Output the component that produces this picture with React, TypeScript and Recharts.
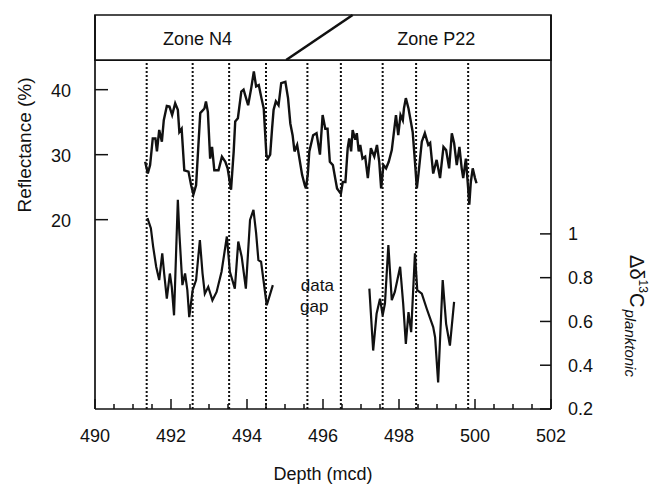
import React from "react";
import {
  ComposedChart,
  Line,
  XAxis,
  YAxis,
  ReferenceLine,
  ReferenceArea,
  ReferenceDot,
} from "recharts";

const FONT = '"Liberation Sans", Arial, Helvetica, sans-serif';
const INK = "#111";

// reflectance record (%), depth in mcd
const reflDepth = [
  491.32, 491.39, 491.45, 491.52, 491.59, 491.63, 491.69, 491.76, 491.81, 491.89,
  491.96, 492.03, 492.11, 492.18, 492.22, 492.28, 492.35, 492.46, 492.53, 492.59,
  492.66, 492.77, 492.88, 492.92, 492.97, 493.03, 493.08, 493.14, 493.25, 493.34,
  493.43, 493.49, 493.58, 493.65, 493.69, 493.76, 493.85, 493.91, 494.03, 494.11,
  494.18, 494.24, 494.31, 494.38, 494.44, 494.51, 494.55, 494.61, 494.66, 494.7,
  494.76, 494.83, 494.9, 495.01, 495.08, 495.14, 495.2, 495.25, 495.32, 495.45,
  495.52, 495.55, 495.6, 495.64, 495.74, 495.83, 495.92, 495.99, 496.06, 496.12,
  496.18, 496.26, 496.32, 496.37, 496.47, 496.52, 496.59, 496.65, 496.69, 496.74,
  496.78, 496.85, 496.89, 496.94, 496.98, 497.04, 497.11, 497.18, 497.26, 497.35,
  497.42, 497.48, 497.53, 497.59, 497.66, 497.73, 497.81, 497.92, 497.98, 498.04,
  498.1, 498.13, 498.18, 498.25, 498.36, 498.42, 498.47, 498.51, 498.6, 498.68,
  498.77, 498.82, 498.9, 498.99, 499.08, 499.17, 499.24, 499.32, 499.39, 499.45,
  499.52, 499.59, 499.65, 499.69, 499.76, 499.82, 499.85, 499.89, 499.94, 500.0,
  500.04,
];
const reflValue = [
  28.9, 27.1, 28.4, 32.5, 32.5, 30.5, 33.8, 32.0, 35.3, 37.5,
  37.4, 36.1, 37.9, 36.9, 33.5, 34.0, 27.6, 27.4, 25.3, 23.9,
  25.3, 36.4, 37.1, 38.2, 36.6, 29.4, 31.2, 27.6, 27.6, 29.7,
  28.9, 27.9, 24.6, 30.5, 35.1, 35.6, 39.7, 40.0, 37.6, 40.2,
  42.8, 40.5, 40.7, 38.7, 37.1, 30.0, 29.4, 30.0, 34.0, 36.9,
  38.2, 37.6, 41.0, 41.2, 38.7, 34.8, 33.0, 30.5, 31.5, 26.9,
  25.3, 24.8, 27.0, 30.5, 33.0, 33.3, 30.0, 36.1, 34.0, 34.0,
  28.9, 28.4, 26.4, 24.8, 24.0, 25.8, 25.8, 31.0, 32.5, 30.5,
  33.8, 32.3, 33.3, 30.5, 31.5, 29.4, 29.7, 26.4, 31.0, 29.7,
  31.5, 28.9, 24.8, 28.4, 27.9, 28.9, 30.7, 36.1, 33.0, 36.1,
  35.3, 37.1, 38.7, 37.1, 33.5, 28.9, 24.8, 26.9, 32.0, 33.3,
  31.5, 31.8, 27.1, 29.2, 26.4, 31.2, 30.7, 27.9, 33.3, 31.8,
  28.4, 31.2, 27.9, 26.4, 29.4, 24.8, 22.3, 25.8, 27.9, 26.4,
  25.6,
];

// delta d13C planktonic, before and after the data gap
const carbonDepthA = [
  491.38, 491.47, 491.53, 491.61, 491.69, 491.77, 491.82, 491.89, 491.97, 492.02,
  492.08, 492.18, 492.22, 492.3, 492.37, 492.43, 492.48, 492.57, 492.66, 492.76,
  492.83, 492.89, 492.98, 493.09, 493.2, 493.33, 493.47, 493.55, 493.68, 493.77,
  493.86, 493.97, 494.08, 494.17, 494.24, 494.3, 494.37, 494.52, 494.68,
];
const carbonValueA = [
  1.072, 1.026, 0.942, 0.85, 0.789, 0.911, 0.819, 0.704, 0.819, 0.758,
  0.628, 1.156, 1.003, 0.766, 0.819, 0.743, 0.62, 0.743, 0.789, 0.972,
  0.819, 0.727, 0.758, 0.697, 0.735, 0.827, 0.988, 0.827, 0.75, 0.965,
  0.896, 0.75, 1.064, 1.11, 1.003, 0.88, 0.873, 0.674, 0.766,
];
const carbonDepthB = [
  497.22, 497.32, 497.41, 497.5, 497.57, 497.63, 497.72, 497.81, 497.89, 498.03,
  498.11, 498.18, 498.25, 498.32, 498.42, 498.48, 498.6, 498.73, 498.9, 498.95,
  499.03, 499.15, 499.24, 499.34, 499.45,
];
const carbonValueB = [
  0.75, 0.467, 0.635, 0.704, 0.628, 0.681, 0.949, 0.697, 0.735, 0.85,
  0.681, 0.497, 0.643, 0.551, 0.911, 0.743, 0.727, 0.658, 0.574, 0.528,
  0.321, 0.789, 0.589, 0.49, 0.689,
];

const depthTicks = [
  490, 490.5, 491, 491.5, 492, 492.5, 493, 493.5, 494, 494.5, 495, 495.5, 496,
  496.5, 497, 497.5, 498, 498.5, 499, 499.5, 500, 500.5, 501, 501.5, 502,
];
const reflTicks = [20, 30, 40];
const carbonTicks = [0.2, 0.4, 0.6, 0.8, 1];

// dotted cycle markers
const markerDepths = [491.36, 492.57, 493.53, 494.5, 495.59, 496.47, 497.57, 498.45, 499.82];

const DEPTH_DOMAIN = [490, 502];
const REFL_DOMAIN = [-9.13, 51.49];
const CARBON_DOMAIN = [0.2, 2.0];
const HEADER_BOTTOM = 44.56;
const zoneBoundary = [
  { x: 495.03, y: HEADER_BOTTOM },
  { x: 496.78, y: REFL_DOMAIN[1] },
];

const reflData = reflDepth.map((d, i) => ({ depth: d, refl: reflValue[i] }));
const carbonDataA = carbonDepthA.map((d, i) => ({ depth: d, carbon: carbonValueA[i] }));
const carbonDataB = carbonDepthB.map((d, i) => ({ depth: d, carbon: carbonValueB[i] }));

function DepthTick(props: any) {
  const { x, y, payload } = props;
  const v = payload.value;
  const major = Math.abs(v / 2 - Math.round(v / 2)) < 1e-6;
  return (
    <g>
      <line x1={x} y1={y} x2={x} y2={y - (major ? 10 : 5)} stroke={INK} strokeWidth={1.5} />
      {major && (
        <text x={x} y={y + 33} textAnchor="middle" fontSize={18} fill={INK} fontFamily={FONT}>
          {v}
        </text>
      )}
    </g>
  );
}

function ReflTick(props: any) {
  const { x, y, payload } = props;
  return (
    <g>
      <line x1={x} y1={y} x2={x + 13} y2={y} stroke={INK} strokeWidth={1.5} />
      <text x={x - 24} y={y} dy="0.42em" textAnchor="end" fontSize={18} fill={INK} fontFamily={FONT}>
        {payload.value}
      </text>
    </g>
  );
}

function CarbonTick(props: any) {
  const { x, y, payload } = props;
  return (
    <g>
      <line x1={x - 11} y1={y} x2={x} y2={y} stroke={INK} strokeWidth={1.5} />
      <text x={x + 17} y={y} dy="0.36em" textAnchor="start" fontSize={18} fill={INK} fontFamily={FONT}>
        {payload.value}
      </text>
    </g>
  );
}

const word = (text: string, size = 18) => (p: any) => (
  <text x={p.cx} y={p.cy} textAnchor="middle" fontSize={size} fill={INK} fontFamily={FONT}>
    {text}
  </text>
);

export default function App() {
  return (
    <div style={{ width: 649, height: 476, background: "#fff" }}>
      <ComposedChart
        width={649}
        height={476}
        margin={{ top: 7, right: 0, bottom: 0, left: 0 }}
        style={{ fontFamily: FONT }}
      >
        <XAxis
          dataKey="depth"
          type="number"
          domain={DEPTH_DOMAIN}
          allowDataOverflow
          ticks={depthTicks}
          interval={0}
          tickSize={0}
          tickMargin={0}
          tickLine={false}
          tick={<DepthTick />}
          height={75}
          axisLine={{ stroke: INK, strokeWidth: 1.7 }}
          label={{
            content: (p: any) => {
              const vb = p.viewBox || { x: 87, y: 401, width: 456 };
              return (
                <text x={vb.x + vb.width / 2} y={vb.y + 71} textAnchor="middle" fontSize={18} fill={INK} fontFamily={FONT}>
                  Depth (mcd)
                </text>
              );
            },
          }}
        />
        <YAxis
          yAxisId="left"
          type="number"
          domain={REFL_DOMAIN}
          allowDataOverflow
          ticks={reflTicks}
          interval={0}
          tickSize={0}
          tickMargin={0}
          tickLine={false}
          tick={<ReflTick />}
          width={87}
          axisLine={{ stroke: INK, strokeWidth: 1.7 }}
          label={{
            content: () => (
              <text transform="translate(23,137) rotate(-90)" textAnchor="middle" fontSize={19} fill={INK} fontFamily={FONT}>
                Reflectance (%)
              </text>
            ),
          }}
        />
        <YAxis
          yAxisId="right"
          orientation="right"
          type="number"
          domain={CARBON_DOMAIN}
          allowDataOverflow
          ticks={carbonTicks}
          interval={0}
          tickSize={0}
          tickMargin={0}
          tickLine={false}
          tick={<CarbonTick />}
          width={106}
          axisLine={{ stroke: INK, strokeWidth: 1.7 }}
          label={{
            content: () => (
              <text transform="translate(622,308) rotate(90)" textAnchor="middle" fill={INK} fontFamily={FONT}>
                <tspan fontSize={20}>Δδ</tspan>
                <tspan fontSize={12} dy={-9}>13</tspan>
                <tspan fontSize={20} dy={9}>C</tspan>
                <tspan fontSize={15} fontStyle="italic" dy={5} dx={2}>planktonic</tspan>
              </text>
            ),
          }}
        />

        <ReferenceArea
          yAxisId="left"
          x1={DEPTH_DOMAIN[0]}
          x2={DEPTH_DOMAIN[1]}
          y1={HEADER_BOTTOM}
          y2={REFL_DOMAIN[1]}
          fill="#fff"
          fillOpacity={1}
          stroke={INK}
          strokeWidth={1.7}
          ifOverflow="visible"
        />
        <ReferenceLine yAxisId="left" segment={zoneBoundary} stroke={INK} strokeWidth={2.6} ifOverflow="visible" />
        <ReferenceDot yAxisId="left" x={492.7} y={46.8} r={0} shape={word("Zone N4")} ifOverflow="visible" />
        <ReferenceDot yAxisId="left" x={498.98} y={46.8} r={0} shape={word("Zone P22")} ifOverflow="visible" />

        {markerDepths.map((d) => (
          <ReferenceLine
            key={d}
            yAxisId="left"
            segment={[
              { x: d, y: REFL_DOMAIN[0] },
              { x: d, y: HEADER_BOTTOM },
            ]}
            stroke={INK}
            strokeWidth={2}
            strokeDasharray="2 2"
            ifOverflow="visible"
          />
        ))}

        <ReferenceDot yAxisId="left" x={495.85} y={9.0} r={0} shape={word("data", 17)} ifOverflow="visible" />
        <ReferenceDot yAxisId="left" x={495.77} y={5.8} r={0} shape={word("gap", 17)} ifOverflow="visible" />

        <Line
          yAxisId="left"
          data={reflData}
          dataKey="refl"
          type="linear"
          dot={false}
          stroke={INK}
          strokeWidth={2.4}
          isAnimationActive={false}
        />
        <Line
          yAxisId="right"
          data={carbonDataA}
          dataKey="carbon"
          type="linear"
          dot={false}
          stroke={INK}
          strokeWidth={2.2}
          isAnimationActive={false}
        />
        <Line
          yAxisId="right"
          data={carbonDataB}
          dataKey="carbon"
          type="linear"
          dot={false}
          stroke={INK}
          strokeWidth={2.2}
          isAnimationActive={false}
        />
      </ComposedChart>
    </div>
  );
}
